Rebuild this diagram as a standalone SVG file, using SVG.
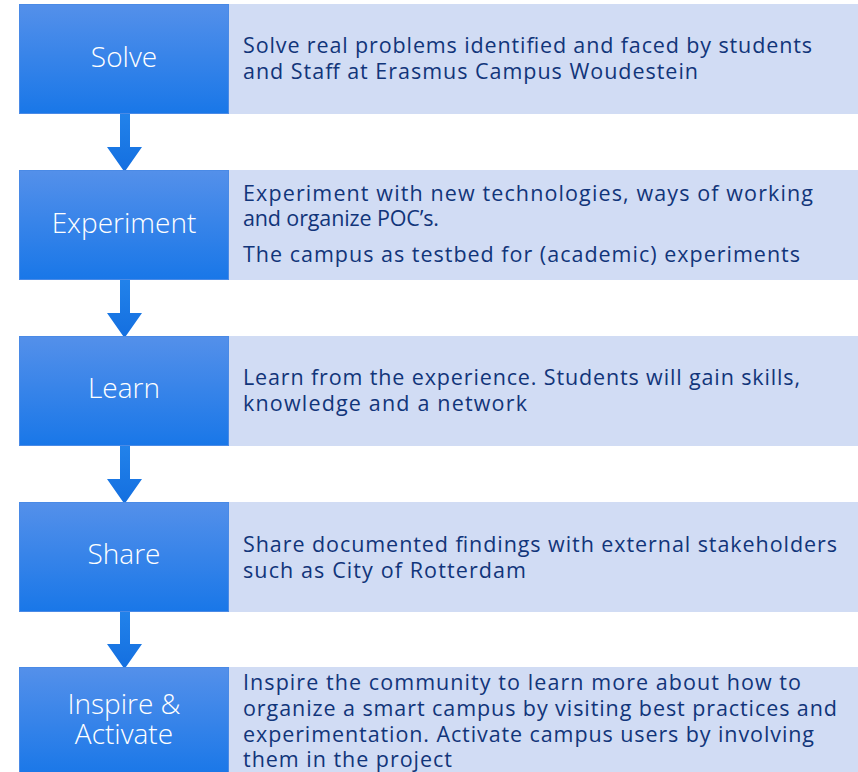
<svg xmlns="http://www.w3.org/2000/svg" width="858" height="772" viewBox="0 0 858 772">
<defs>
<linearGradient id="bg" x1="0" y1="0" x2="0" y2="1">
<stop offset="0" stop-color="#5490ea"/>
<stop offset="1" stop-color="#1977e8"/>
</linearGradient>
<linearGradient id="ag" x1="0" y1="0" x2="0" y2="1">
<stop offset="0" stop-color="#2282ea"/>
<stop offset="1" stop-color="#146fe0"/>
</linearGradient>
<style>
.blue{fill:url(#bg);stroke:#4a8ae6;stroke-width:1}
.light{fill:#d1dcf4}
.lbl{font-family:"Open Sans","Noto Sans",sans-serif;font-size:28px;fill:#ffffff;text-anchor:middle;font-weight:300}
.desc{font-family:"Open Sans","Noto Sans",sans-serif;font-size:21.5px;fill:#11357a;font-weight:400}
.arrow{fill:url(#ag)}
</style>
</defs>
<rect width="858" height="772" fill="#ffffff"/>
<g id="connectors">
<path class="arrow" d="M120,114 H130 V147 H142 L124.5,172 L107,147 H120 Z"/>
<path class="arrow" d="M120,280 H130 V313 H142 L124.5,338 L107,313 H120 Z"/>
<path class="arrow" d="M120,446 H130 V479 H142 L124.5,504 L107,479 H120 Z"/>
<path class="arrow" d="M120,612 H130 V644 H142 L124.5,669 L107,644 H120 Z"/>
</g>
<g id="solve">
<rect class="light" x="229" y="4" width="629" height="110"/>
<rect class="blue" x="19.5" y="4.5" width="209" height="109"/>
<text class="lbl" x="124" y="67">Solve</text>
<text class="desc" x="243" y="53" textLength="569" lengthAdjust="spacing">Solve real problems identified and faced by students</text>
<text class="desc" x="243" y="79" textLength="455" lengthAdjust="spacing">and Staff at Erasmus Campus Woudestein</text>
</g>
<g id="experiment">
<rect class="light" x="229" y="170" width="629" height="110"/>
<rect class="blue" x="19.5" y="170.5" width="209" height="109"/>
<text class="lbl" x="124" y="233">Experiment</text>
<text class="desc" x="243" y="201" textLength="570" lengthAdjust="spacing">Experiment with new technologies, ways of working</text>
<text class="desc" x="243" y="226" textLength="196" lengthAdjust="spacing">and organize POC’s.</text>
<text class="desc" x="243" y="262" textLength="557" lengthAdjust="spacing">The campus as testbed for (academic) experiments</text>
</g>
<g id="learn">
<rect class="light" x="229" y="336" width="629" height="110"/>
<rect class="blue" x="19.5" y="336.5" width="209" height="109"/>
<text class="lbl" x="124" y="398">Learn</text>
<text class="desc" x="243" y="385" textLength="557" lengthAdjust="spacing">Learn from the experience. Students will gain skills,</text>
<text class="desc" x="243" y="411" textLength="284" lengthAdjust="spacing">knowledge and a network</text>
</g>
<g id="share">
<rect class="light" x="229" y="502" width="629" height="110"/>
<rect class="blue" x="19.5" y="502.5" width="209" height="109"/>
<text class="lbl" x="124" y="564">Share</text>
<text class="desc" x="243" y="552" textLength="594" lengthAdjust="spacing">Share documented findings with external stakeholders</text>
<text class="desc" x="243" y="578" textLength="283" lengthAdjust="spacing">such as City of Rotterdam</text>
</g>
<g id="inspire">
<rect class="light" x="229" y="667" width="629" height="110"/>
<rect class="blue" x="19.5" y="667.5" width="209" height="109"/>
<text class="lbl" x="124" y="714">Inspire &amp;</text>
<text class="lbl" x="124" y="744">Activate</text>
<text class="desc" x="243" y="690" textLength="558" lengthAdjust="spacing">Inspire the community to learn more about how to</text>
<text class="desc" x="243" y="716" textLength="594" lengthAdjust="spacing">organize a smart campus by visiting best practices and</text>
<text class="desc" x="243" y="742" textLength="571" lengthAdjust="spacing">experimentation. Activate campus users by involving</text>
<text class="desc" x="243" y="767" textLength="209" lengthAdjust="spacing">them in the project</text>
</g>
</svg>
